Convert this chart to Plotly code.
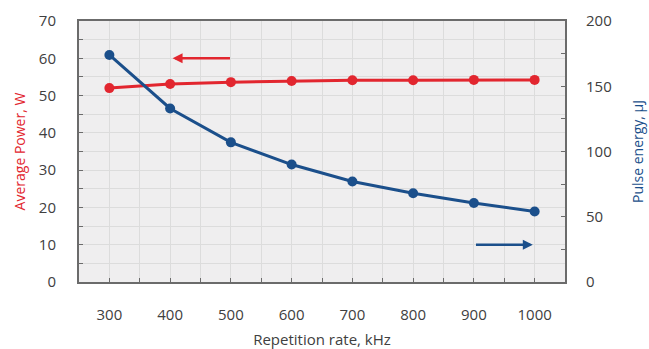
import plotly.graph_objects as go

rep_rate = [300, 400, 500, 600, 700, 800, 900, 1000]
avg_power = [52.0, 53.1, 53.6, 53.9, 54.1, 54.1, 54.2, 54.2]
pulse_energy = [174, 133, 107, 90, 77, 68, 60.5, 54]

RED = "#e2262f"
BLUE = "#1b4f8b"
GRID = "#dcdcdc"
FRAME = "#6b6b6b"
TXT = "#404040"
FONT = "Open Sans"

fig = go.Figure()
fig.add_trace(go.Scatter(x=rep_rate, y=avg_power, mode="lines+markers",
                         line=dict(color=RED, width=3), marker=dict(color=RED, size=10),
                         yaxis="y", showlegend=False))
fig.add_trace(go.Scatter(x=rep_rate, y=pulse_energy, mode="lines+markers",
                         line=dict(color=BLUE, width=3), marker=dict(color=BLUE, size=10),
                         yaxis="y2", showlegend=False))

fig.add_annotation(x=404, y=60, ax=501, ay=60, xref="x", yref="y", axref="x", ayref="y",
                   text="", showarrow=True, arrowhead=2, arrowsize=0.8, arrowwidth=2.5,
                   arrowcolor=RED)
fig.add_annotation(x=997, y=10, ax=901, ay=10, xref="x", yref="y", axref="x", ayref="y",
                   text="", showarrow=True, arrowhead=2, arrowsize=0.8, arrowwidth=2.5,
                   arrowcolor=BLUE)

fig.update_layout(
    width=649, height=349,
    margin=dict(l=79, r=84, t=21, b=67),
    paper_bgcolor="white", plot_bgcolor="#efeeef",
    font=dict(family=FONT, size=15, color=TXT),
    xaxis=dict(range=[250, 1050], tickmode="array", tickvals=rep_rate,
               ticktext=[str(v) for v in rep_rate],
               showgrid=True, gridcolor=GRID, gridwidth=1,
               minor=dict(dtick=50, tick0=250, showgrid=True, gridcolor=GRID,
                          ticks="inside", ticklen=4, tickcolor=FRAME),
               ticks="inside", ticklen=4, tickcolor=FRAME,
               showline=True, linecolor=FRAME, linewidth=2, mirror=True,
               zeroline=False, ticklabelstandoff=18, automargin=False,
               title=dict(text="Repetition rate, kHz", font=dict(size=15, color=TXT), standoff=14)),
    yaxis=dict(range=[0, 70], dtick=10, showgrid=True, gridcolor=GRID,
               minor=dict(dtick=5, showgrid=True, gridcolor=GRID, ticks="inside",
                          ticklen=4, tickcolor=FRAME),
               ticks="inside", ticklen=4, tickcolor=FRAME,
               showline=True, linecolor=FRAME, linewidth=2, mirror=True,
               zeroline=False, ticklabelstandoff=18, automargin=False,
               title=dict(text="Average Power, W", font=dict(size=14, color=RED), standoff=10)),
    yaxis2=dict(range=[0, 200], dtick=50, overlaying="y", side="right",
                showgrid=False, zeroline=False,
                minor=dict(dtick=25, ticks="inside", ticklen=4, tickcolor=FRAME),
                ticks="inside", ticklen=4, tickcolor=FRAME,
                showline=False, ticklabelstandoff=20, automargin=False,
                title=dict(text="Pulse energy, μJ", font=dict(size=14, color=BLUE), standoff=22)),
)

fig.write_html("out.html")
